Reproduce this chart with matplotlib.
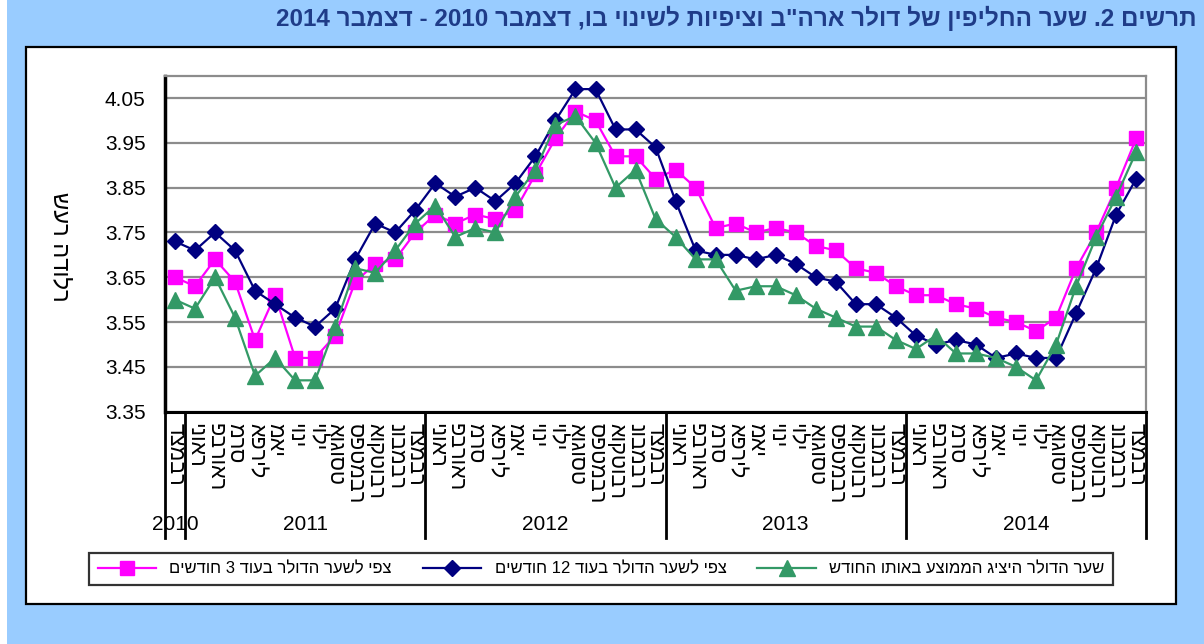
import re
import matplotlib
matplotlib.use("Agg")
import matplotlib.pyplot as plt
import matplotlib.transforms as mtransforms
from matplotlib.patches import Rectangle

plt.rcParams['font.family'] = ['Liberation Sans', 'DejaVu Sans']

# ----- Data -----
months_he = ['ינואר', 'פברואר', 'מרס', 'אפריל', 'מאי', 'יוני', 'יולי',
             'אוגוסט', 'ספטמבר', 'אוקטובר', 'נובמבר', 'דצמבר']
years = ['2010', '2011', '2012', '2013', '2014']
month_labels = ['דצמבר'] + months_he * 4

exp_3m = [3.65, 3.63, 3.69, 3.64, 3.51, 3.61, 3.47, 3.47, 3.52, 3.64, 3.68, 3.69, 3.75,
          3.79, 3.77, 3.79, 3.78, 3.80, 3.88, 3.96, 4.02, 4.00, 3.92, 3.92, 3.87,
          3.89, 3.85, 3.76, 3.77, 3.75, 3.76, 3.75, 3.72, 3.71, 3.67, 3.66, 3.63,
          3.61, 3.61, 3.59, 3.58, 3.56, 3.55, 3.53, 3.56, 3.67, 3.75, 3.85, 3.96]
exp_12m = [3.73, 3.71, 3.75, 3.71, 3.62, 3.59, 3.56, 3.54, 3.58, 3.69, 3.77, 3.75, 3.80,
           3.86, 3.83, 3.85, 3.82, 3.86, 3.92, 4.00, 4.07, 4.07, 3.98, 3.98, 3.94,
           3.82, 3.71, 3.70, 3.70, 3.69, 3.70, 3.68, 3.65, 3.64, 3.59, 3.59, 3.56,
           3.52, 3.50, 3.51, 3.50, 3.47, 3.48, 3.47, 3.47, 3.57, 3.67, 3.79, 3.87]
rep_rate = [3.60, 3.58, 3.65, 3.56, 3.43, 3.47, 3.42, 3.42, 3.54, 3.67, 3.66, 3.71, 3.77,
            3.81, 3.74, 3.76, 3.75, 3.83, 3.89, 3.99, 4.01, 3.95, 3.85, 3.89, 3.78,
            3.74, 3.69, 3.69, 3.62, 3.63, 3.63, 3.61, 3.58, 3.56, 3.54, 3.54, 3.51,
            3.49, 3.52, 3.48, 3.48, 3.47, 3.45, 3.42, 3.50, 3.63, 3.74, 3.83, 3.93]

yticks = [3.35, 3.45, 3.55, 3.65, 3.75, 3.85, 3.95, 4.05]

title_he = 'תרשים 2. שער החליפין של דולר ארה"ב וציפיות לשינוי בו, דצמבר 2010 - דצמבר 2014'
label_3m = 'צפי לשער הדולר בעוד 3 חודשים'
label_12m = 'צפי לשער הדולר בעוד 12 חודשים'
label_rep = 'שער הדולר היציג הממוצע באותו החודש'
ylabel_he = 'שער הדולר'


def rtl(s):
    # visual order for matplotlib (no bidi): reverse, keep digit runs
    parts = re.findall(r'\d+|\D', s)
    return ''.join(parts[::-1])


# ----- Figure -----
fig = plt.figure(figsize=(12.04, 6.44), dpi=100, facecolor='#99CCFF')
fig.patches.append(Rectangle((0, 0), 0.006, 1, transform=fig.transFigure,
                             facecolor='white', edgecolor='none', zorder=-2))
fig.patches.append(Rectangle((0.0216, 0.0621), 0.955, 0.8654, transform=fig.transFigure,
                             facecolor='white', edgecolor='black', linewidth=1.6, zorder=-1))

fig.text(0.994, 0.972, rtl(title_he), ha='right', va='center', fontsize=17.5,
         fontweight='bold', color='#1F3C88')

ax = fig.add_axes([0.137, 0.3607, 0.815, 0.5218], zorder=2)
x = list(range(len(exp_3m)))

ax.plot(x, exp_3m, color='#FF00FF', lw=1.6, marker='s', ms=10, mec='#FF00FF',
        label=rtl(label_3m), zorder=3, clip_on=False)
ax.plot(x, exp_12m, color='#000080', lw=1.6, marker='D', ms=8, mec='#000080',
        label=rtl(label_12m), zorder=4, clip_on=False)
ax.plot(x, rep_rate, color='#339966', lw=1.6, marker='^', ms=11, mec='#339966',
        label=rtl(label_rep), zorder=5, clip_on=False)

ax.set_xlim(-0.5, len(x) - 0.5)
ax.set_ylim(3.35, 4.10)
ax.set_yticks(yticks)
ax.set_yticklabels([f'{v:.2f}' for v in yticks], fontsize=15)
ax.tick_params(axis='y', length=0, pad=14)
ax.set_xticks([])
ax.grid(axis='y', color='#8C8C8C', lw=1.6)
ax.set_axisbelow(True)
for s in ['top', 'right']:
    ax.spines[s].set_color('#8C8C8C')
    ax.spines[s].set_linewidth(1.6)
ax.spines['left'].set_linewidth(2.5)
ax.spines['bottom'].set_linewidth(2.2)

ax.set_ylabel(ylabel_he, rotation=270, fontsize=17, va='center')
ax.yaxis.set_label_coords(-0.107, 0.49)

# multi-level category axis
trans = mtransforms.blended_transform_factory(ax.transData, ax.transAxes)
for i, m in enumerate(month_labels):
    ax.text(i, -0.033, m, rotation=270, ha='center', va='top', fontsize=15.5,
            transform=trans)

bounds = [-0.5, 0.5, 12.5, 24.5, 36.5, 48.5]
for b in bounds:
    ax.plot([b, b], [0, -0.375], color='black', lw=2, transform=trans, clip_on=False)
for j, yr in enumerate(years):
    ax.text((bounds[j] + bounds[j + 1]) / 2, -0.335, yr, ha='center', va='center',
            fontsize=15, transform=trans)

leg = fig.legend(loc='center', bbox_to_anchor=(81 / 1204, 58 / 644, 1040 / 1204, 34 / 644),
                 mode='expand', ncol=3, fontsize=12,
                 handlelength=3.5, fancybox=False, edgecolor='black', borderpad=0.5)
leg.get_frame().set_linewidth(1.6)

fig.savefig('out.png', dpi=100, facecolor=fig.get_facecolor())
